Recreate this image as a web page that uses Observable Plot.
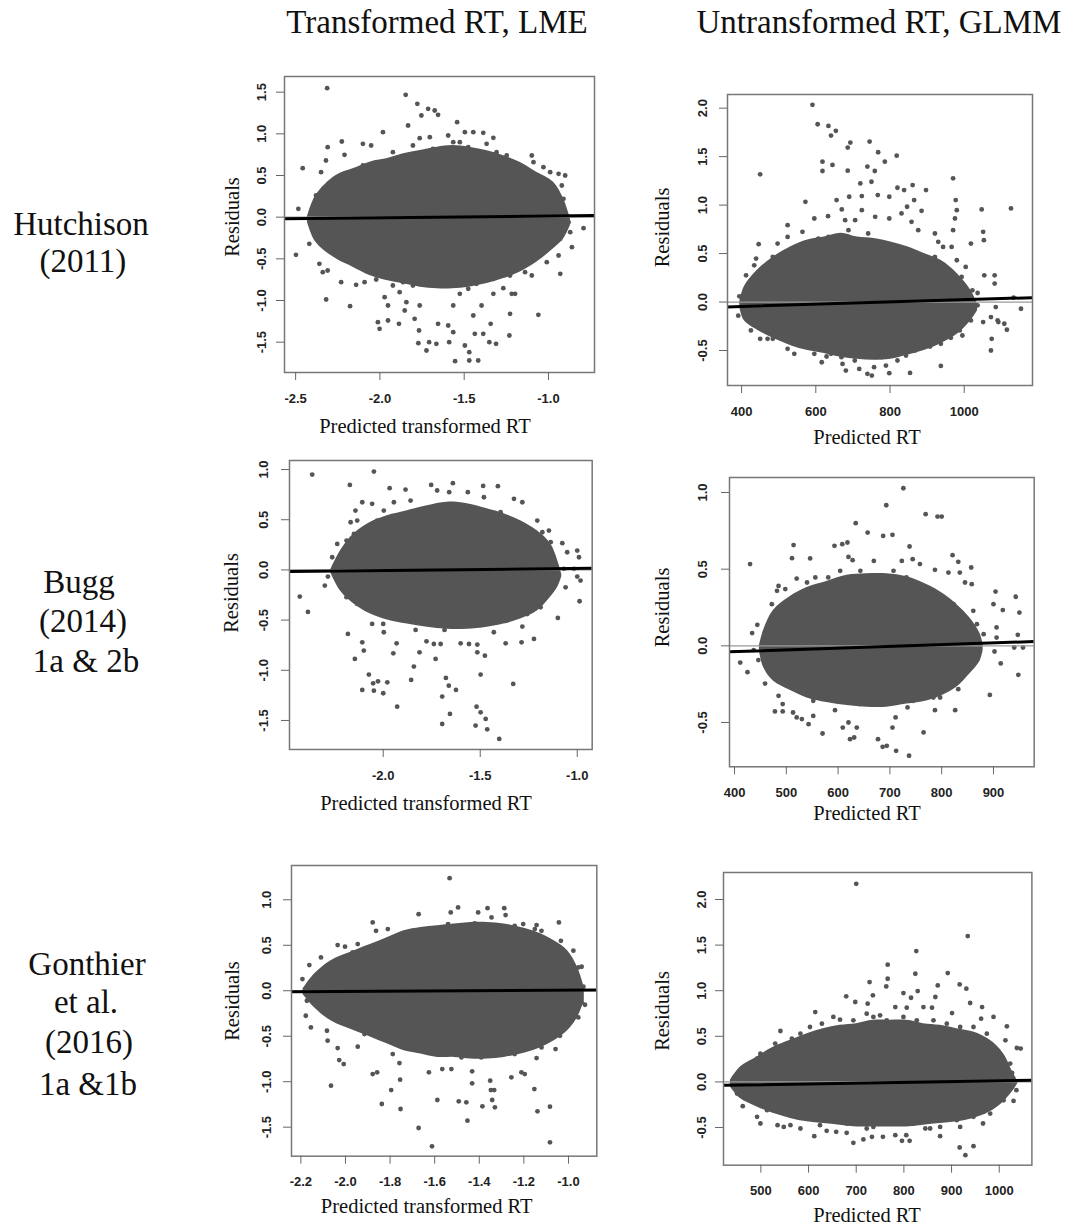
<!DOCTYPE html>
<html><head><meta charset="utf-8">
<script src="https://cdn.jsdelivr.net/npm/d3@7"></script>
<script src="https://cdn.jsdelivr.net/npm/@observablehq/plot@0.6"></script>
<style>
body{margin:0;background:#fff;}
#root{position:relative;width:1073px;height:1228px;overflow:hidden;background:#fff;}
.panel{position:absolute;}
#overlay{position:absolute;left:0;top:0;}
</style></head>
<body><div id="root"></div>
<script>
// ---------- text ----------
const columnTitles = ["Transformed RT, LME", "Untransformed RT, GLMM"];
const rowLabels = [["Hutchison", "(2011)"], ["Bugg", "(2014)", "1a & 2b"], ["Gonthier", "et al.", "(2016)", "1a &1b"]];
const yTitle = "Residuals";
const xTitles = ["Predicted transformed RT", "Predicted RT"];

// ---------- tick values ----------
const hutchLmeXTicks = [-2.5, -2.0, -1.5, -1.0];
const hutchLmeYTicks = [-1.5, -1.0, -0.5, 0, 0.5, 1.0, 1.5];
const hutchGlmmXTicks = [400, 600, 800, 1000];
const hutchGlmmYTicks = [-0.5, 0, 0.5, 1.0, 1.5, 2.0];
const buggLmeXTicks = [-2.0, -1.5, -1.0];
const buggLmeYTicks = [-1.5, -1.0, -0.5, 0, 0.5, 1.0];
const buggGlmmXTicks = [400, 500, 600, 700, 800, 900];
const buggGlmmYTicks = [-0.5, 0, 0.5, 1.0];
const gonLmeXTicks = [-2.2, -2.0, -1.8, -1.6, -1.4, -1.2, -1.0];
const gonLmeYTicks = [-1.5, -1.0, -0.5, 0, 0.5, 1.0];
const gonGlmmXTicks = [500, 600, 700, 800, 900, 1000];
const gonGlmmYTicks = [-0.5, 0, 0.5, 1.0, 1.5, 2.0];

// ---------- fitted line (residual at left / right end of range) ----------
const hutchLmeFit = [-0.02, 0.02];
const hutchGlmmFit = [-0.05, 0.045];
const buggLmeFit = [-0.017, 0.017];
const buggGlmmFit = [-0.039, 0.028];
const gonLmeFit = [-0.01, 0.007];
const gonGlmmFit = [-0.037, 0.018];

// ---------- extent of the dense, overplotted mass of each cloud (x, upper residual, lower residual) ----------
const hutchLmeMassX = [-2.43, -2.38, -2.26, -2.16, -2.06, -1.96, -1.86, -1.76, -1.66, -1.57, -1.47, -1.37, -1.27, -1.17, -1.07, -0.97, -0.91, -0.87];
const hutchLmeMassHi = [0.0, 0.26, 0.50, 0.58, 0.66, 0.70, 0.76, 0.80, 0.84, 0.86, 0.84, 0.80, 0.74, 0.66, 0.54, 0.42, 0.22, -0.02];
const hutchLmeMassLo = [-0.06, -0.30, -0.50, -0.60, -0.70, -0.76, -0.80, -0.84, -0.86, -0.86, -0.84, -0.80, -0.74, -0.66, -0.54, -0.38, -0.26, -0.10];

const hutchGlmmMassX = [395, 407, 443, 488, 533, 578, 623, 668, 712, 757, 802, 847, 892, 937, 982, 1018, 1036];
const hutchGlmmMassHi = [0.0, 0.155, 0.33, 0.47, 0.57, 0.64, 0.67, 0.71, 0.67, 0.655, 0.62, 0.57, 0.50, 0.43, 0.29, 0.12, -0.02];
const hutchGlmmMassLo = [-0.05, -0.19, -0.29, -0.38, -0.45, -0.50, -0.53, -0.57, -0.59, -0.60, -0.59, -0.55, -0.50, -0.43, -0.33, -0.19, -0.09];

const buggLmeMassX = [-2.27, -2.22, -2.151, -2.065, -1.979, -1.876, -1.773, -1.67, -1.567, -1.464, -1.378, -1.292, -1.206, -1.137, -1.10, -1.08];
const buggLmeMassHi = [0.0, 0.19, 0.36, 0.475, 0.54, 0.59, 0.64, 0.675, 0.66, 0.61, 0.56, 0.49, 0.39, 0.26, 0.09, -0.04];
const buggLmeMassLo = [-0.03, -0.21, -0.34, -0.44, -0.50, -0.54, -0.57, -0.59, -0.59, -0.57, -0.54, -0.49, -0.41, -0.27, -0.17, -0.07];

const buggGlmmMassX = [448, 456, 475, 507, 540, 578, 617, 655, 694, 733, 771, 803, 829, 855, 874, 880];
const buggGlmmMassHi = [0.0, 0.10, 0.23, 0.32, 0.38, 0.42, 0.46, 0.47, 0.47, 0.45, 0.40, 0.34, 0.27, 0.18, 0.08, 0.01];
const buggGlmmMassLo = [-0.03, -0.14, -0.23, -0.29, -0.34, -0.37, -0.39, -0.40, -0.40, -0.38, -0.36, -0.32, -0.27, -0.18, -0.10, -0.03];

const gonLmeMassX = [-2.19, -2.14, -2.065, -1.96, -1.886, -1.811, -1.737, -1.662, -1.587, -1.512, -1.438, -1.363, -1.288, -1.213, -1.139, -1.064, -1.004, -0.959, -0.929];
const gonLmeMassHi = [0.02, 0.18, 0.33, 0.44, 0.51, 0.586, 0.66, 0.696, 0.714, 0.733, 0.75, 0.75, 0.733, 0.696, 0.64, 0.55, 0.44, 0.256, 0.037];
const gonLmeMassLo = [-0.04, -0.183, -0.33, -0.44, -0.51, -0.586, -0.66, -0.696, -0.733, -0.733, -0.75, -0.75, -0.733, -0.696, -0.64, -0.55, -0.44, -0.293, -0.11];

const gonGlmmMassX = [436, 457, 492, 527, 562, 597, 631, 666, 701, 736, 771, 806, 841, 876, 911, 946, 981, 1009, 1030, 1040];
const gonGlmmMassHi = [0.018, 0.164, 0.274, 0.383, 0.456, 0.529, 0.584, 0.62, 0.639, 0.675, 0.675, 0.675, 0.639, 0.62, 0.584, 0.547, 0.456, 0.31, 0.091, 0.0];
const gonGlmmMassLo = [-0.055, -0.182, -0.274, -0.347, -0.40, -0.438, -0.456, -0.474, -0.493, -0.493, -0.493, -0.493, -0.474, -0.456, -0.438, -0.40, -0.328, -0.219, -0.091, -0.01];

// ---------- individual points around and outside the mass [predicted, residual] ----------
const hutchLmePts = [
[-2.313,1.548],[-1.847,1.468],[-1.778,1.36],[-1.714,1.30],[-1.675,1.28],[-1.754,1.22],[-1.655,1.228],[-1.542,1.14],[-1.833,1.10],[-1.982,1.02],[-1.496,1.02],[-1.446,1.02],[-1.387,1.012],[-1.327,0.952],[-2.226,0.908],[-2.31,0.84],[-2.32,0.68],[-2.21,0.748],[-2.101,0.88],[-2.052,0.86],[-1.764,0.948],[-1.704,0.96],[-1.595,0.98],[-1.565,0.90],[-2.458,0.588],[-2.349,0.54],[-2.27,0.44],[-1.099,0.74],[-1.089,0.66],[-1.030,0.60],[-0.990,0.54],[-0.94,0.52],[-0.901,0.50],[-0.921,0.38],[-0.911,0.22],[-0.97,0.10],[-0.93,0.04],[-0.881,-0.06],[-0.871,-0.18],[-0.792,-0.132],[-0.861,-0.36],[-0.93,-0.26],[-0.94,-0.46],[-0.93,-0.68],[-1.01,-0.54],[-1.099,-0.70],[-1.149,-0.58],[-2.484,0.10],[-2.498,-0.452],[-2.419,-0.32],[-2.359,-0.26],[-2.359,-0.56],[-2.339,-0.66],[-2.31,-0.64],[-2.379,-0.02],[-2.379,0.26],[-2.32,0.18],[-2.28,-0.38],[-2.23,-0.78],[-2.141,-0.812],[-2.091,-0.78],[-2.319,-0.988],[-2.177,-1.068],[-2.012,-1.26],[-1.952,-1.24],[-2.002,-1.34],[-1.887,-1.28],[-1.853,-1.12],[-1.764,-1.06],[-1.768,-1.36],[-1.772,-1.512],[-1.708,-1.50],[-1.724,-1.60],[-1.665,-1.52],[-1.655,-1.28],[-1.595,-1.30],[-1.565,-1.38],[-1.589,-1.50],[-1.554,-1.728],[-1.496,-1.54],[-1.470,-1.62],[-1.47,-1.72],[-1.417,-1.72],[-1.437,-1.40],[-1.387,-1.40],[-1.446,-1.18],[-1.397,-1.06],[-1.343,-1.28],[-1.351,-1.50],[-1.311,-1.52],[-1.228,-1.16],[-1.232,-1.42],[-1.218,-0.92],[-1.198,-0.92],[-1.268,-0.852],[-1.327,-0.92],[-1.06,-1.172],[-1.139,-0.66],[-1.526,-0.92],[-1.565,-1.06],[-1.685,-0.82],[-1.804,-0.82],[-1.883,-0.90],[-1.923,-0.82],[-1.972,-0.96],[-2.022,-0.748],[-1.952,-1.06],[-1.843,-1.02],[-1.794,-1.22],[-1.427,-0.80],[-1.476,-0.86],
[-1.923,0.78],[-1.873,0.72],[-1.804,0.86],[-1.685,0.82],[-1.526,0.90],[-1.476,0.84],[-1.367,0.88],[-1.308,0.78],[-1.248,0.74],[-1.208,0.64],[-1.169,0.58],[-2.022,0.66],[-2.101,0.62],[-2.141,0.50],[-2.181,0.42],[-2.22,0.30],[-2.26,0.18],[-2.30,0.06],[-2.32,-0.10],[-2.26,-0.18],[-2.22,-0.30],[-2.18,-0.46],[-2.121,-0.54],[-2.062,-0.66],[-1.962,-0.72],[-1.863,-0.78],[-1.724,-0.78],[-1.605,-0.80],[-1.327,-0.74],[-1.228,-0.70],[-1.05,-0.46],[-0.99,-0.34]
];

const hutchGlmmPts = [
[591,2.034],[605,1.834],[634,1.817],[641,1.717],[654,1.766],[693,1.645],[686,1.593],[745,1.655],[645,1.414],[618,1.448],[618,1.352],[686,1.355],[768,1.545],[818,1.510],[786,1.448],[739,1.397],[759,1.352],[450,1.317],[720,1.224],[750,1.241],[970,1.276],[838,1.155],[820,1.179],[861,1.207],[897,1.155],[798,1.086],[767,1.103],[724,1.093],[690,1.086],[656,1.052],[572,1.034],[1047,0.955],[1126,0.966],[865,1.052],[885,0.941],[846,0.983],[977,1.052],[980,0.948],[975,0.862],[1018,0.603],[1051,0.724],[1053,0.638],[1004,0.362],[1022,0.121],[1036,0.093],[1054,0.276],[1082,0.276],[1082,0.19],[1036,-0.034],[1072,-0.155],[1051,-0.207],[1085,-0.052],[1090,-0.19],[1108,-0.224],[1115,-0.286],[1074,-0.379],[1072,-0.50],[1153,-0.069],[1133,0.045],[1092,-0.207],[1018,-0.19],[995,-0.345],[964,-0.369],[937,-0.659],[908,-0.459],[901,-0.379],[892,-0.241],[854,-0.731],[843,-0.552],[820,-0.603],[798,-0.734],[789,-0.655],[751,-0.759],[739,-0.741],[757,-0.672],[717,-0.69],[705,-0.603],[681,-0.707],[672,-0.638],[683,-0.534],[641,-0.534],[616,-0.621],[629,-0.562],[596,-0.534],[582,-0.466],[524,-0.483],[470,-0.379],[450,-0.379],[425,-0.293],[391,-0.141],[407,-0.086],[394,0.059],[416,0.172],[412,0.276],[434,0.379],[439,0.448],[446,0.597],[452,0.293],[484,0.466],[497,0.603],[524,0.793],[524,0.672],[564,0.724],[596,0.862],[633,0.886],[670,0.955],[679,0.845],[706,0.845],[724,0.948],[760,0.879],[798,0.862],[831,0.914],[858,0.828],[876,0.741],[921,0.707],[930,0.621],[943,0.569],[966,0.569],[970,0.741],[688,0.741],[741,0.707],[634,0.672],[607,0.655],[921,0.466],[903,0.397],[980,0.431],[993,0.259],[484,-0.379],[542,-0.534],[669,-0.569],[777,-0.569],[831,-0.483],[867,-0.50],[937,-0.431],[988,-0.293]
];

const buggLmePts = [
[-2.366,0.95],[-2.048,0.98],[-2.172,0.847],[-1.967,0.814],[-1.885,0.80],[-1.753,0.847],[-1.641,0.864],[-1.485,0.837],[-1.409,0.834],[-1.722,0.791],[-1.66,0.774],[-1.564,0.774],[-1.481,0.724],[-1.326,0.708],[-1.283,0.674],[-2.108,0.674],[-2.057,0.658],[-1.945,0.674],[-1.859,0.691],[-2.143,0.591],[-2.134,0.492],[-2.168,0.475],[-1.997,0.591],[-2.031,0.492],[-2.237,0.259],[-2.263,0.126],[-2.189,0.292],[-2.151,0.359],[-2.100,0.392],[-1.206,0.492],[-1.180,0.375],[-1.146,0.392],[-1.137,0.276],[-1.077,0.266],[-1.052,0.176],[-1.000,0.193],[-0.991,0.126],[-1.069,0.01],[-1.017,0.01],[-1.0,-0.066],[-0.983,-0.106],[-1.06,-0.173],[-1.10,-0.478],[-0.988,-0.312],[-1.137,-0.173],[-1.163,-0.272],[-1.189,-0.372],[-1.223,-0.688],[-1.283,-0.565],[-1.287,-0.721],[-1.369,-0.731],[-1.43,-0.621],[-1.476,-0.854],[-1.515,-0.744],[-1.558,-0.738],[-1.515,-0.821],[-1.601,-0.731],[-1.684,-0.598],[-1.704,-0.738],[-1.739,-0.738],[-1.73,-0.887],[-1.777,-0.711],[-1.833,-0.598],[-1.813,-0.821],[-1.842,-0.963],[-1.856,-1.096],[-1.931,-0.731],[-1.948,-0.831],[-1.997,-0.621],[-2.0,-0.538],[-2.057,-0.538],[-2.10,-0.804],[-2.108,-0.721],[-2.146,-0.887],[-2.182,-0.638],[-2.189,-0.272],[-2.151,-0.206],[-2.134,-0.339],[-2.301,-0.156],[-2.285,-0.066],[-2.388,-0.419],[-2.43,-0.266],[-2.108,-1.196],[-2.074,-1.043],[-2.052,-1.13],[-2.048,-1.203],[-2.027,-1.11],[-2.0,-1.229],[-1.979,-1.12],[-1.928,-1.362],[-1.696,-1.262],[-1.696,-1.535],[-1.677,-1.076],[-1.662,-1.153],[-1.656,-1.435],[-1.625,-1.196],[-1.519,-1.362],[-1.524,-1.551],[-1.498,-1.043],[-1.498,-1.419],[-1.472,-1.485],[-1.464,-1.588],[-1.402,-1.684],[-1.33,-1.136],[-1.902,-0.472],[-1.79,-0.488],[-1.636,-0.505],[-1.533,-0.505],[-1.378,-0.472],[-1.258,-0.439],[-1.945,0.492],[-1.808,0.591],[-1.636,0.625],[-1.515,0.608],[-1.395,0.575],[-1.309,0.475],[-1.24,0.392]
];

const buggGlmmPts = [
[726,1.028],[693,0.917],[769,0.859],[792,0.843],[800,0.843],[634,0.80],[657,0.739],[687,0.717],[705,0.724],[738,0.648],[593,0.652],[608,0.663],[618,0.674],[514,0.657],[511,0.572],[546,0.57],[430,0.533],[620,0.58],[628,0.559],[669,0.554],[723,0.554],[744,0.565],[758,0.533],[787,0.496],[821,0.591],[832,0.548],[857,0.511],[813,0.478],[835,0.478],[845,0.413],[858,0.402],[904,0.354],[943,0.32],[950,0.217],[900,0.272],[918,0.233],[868,0.141],[881,0.076],[906,0.12],[906,0.054],[947,0.072],[940,-0.011],[957,-0.011],[902,-0.037],[914,-0.115],[948,-0.189],[893,-0.32],[861,-0.043],[851,-0.141],[835,-0.207],[832,-0.283],[826,-0.42],[787,-0.42],[784,-0.337],[765,-0.565],[734,-0.402],[737,-0.717],[712,-0.685],[694,-0.652],[686,-0.659],[677,-0.609],[711,-0.467],[705,-0.533],[623,-0.609],[631,-0.598],[636,-0.533],[620,-0.50],[609,-0.533],[594,-0.42],[570,-0.572],[543,-0.511],[552,-0.457],[530,-0.478],[520,-0.467],[513,-0.435],[493,-0.428],[478,-0.428],[493,-0.38],[485,-0.326],[459,-0.246],[425,-0.172],[411,-0.109],[437,-0.028],[446,-0.093],[444,0.137],[434,0.083],[462,0.011],[472,0.272],[482,0.359],[485,0.391],[498,0.37],[520,0.439],[540,0.413],[556,0.446],[565,0.391],[581,0.446],[604,0.489],[643,0.489],[681,0.457],[707,0.489],[732,0.446],[765,0.38],[784,0.359],[797,0.315],[823,0.272],[861,0.228],[552,-0.359],[578,-0.337],[642,-0.38],[668,-0.359],[745,-0.359],[797,-0.337],[778,-0.283]
];

const gonLmePts = [
[-1.533,1.238],[-1.528,0.861],[-1.495,0.916],[-1.672,0.842],[-1.878,0.751],[-1.405,0.861],[-1.363,0.908],[-1.345,0.806],[-1.288,0.908],[-1.282,0.832],[-1.203,0.733],[-1.143,0.722],[-1.043,0.751],[-1.863,0.659],[-1.810,0.678],[-1.78,0.549],[-1.825,0.465],[-1.945,0.513],[-2.035,0.502],[-2.002,0.484],[-2.11,0.366],[-2.162,0.282],[-2.193,0.128],[-1.968,0.421],[-1.93,0.33],[-2.065,0.293],[-2.083,0.22],[-2.013,0.22],[-2.095,0.018],[-2.05,-0.073],[-2.173,-0.11],[-2.178,-0.275],[-2.155,-0.403],[-2.083,-0.44],[-2.08,-0.549],[-2.035,-0.63],[-2.028,-0.762],[-2.008,-0.806],[-2.065,-1.044],[-1.945,-0.615],[-1.915,-0.476],[-1.878,-0.916],[-1.858,-0.897],[-1.837,-1.245],[-1.795,-1.092],[-1.788,-0.696],[-1.758,-0.795],[-1.755,-0.978],[-1.753,-1.30],[-1.672,-1.509],[-1.612,-1.711],[-1.588,-1.201],[-1.626,-0.897],[-1.566,-0.861],[-1.525,-0.861],[-1.492,-1.216],[-1.458,-1.227],[-1.453,-1.429],[-1.432,-0.886],[-1.432,-1.018],[-1.386,-1.271],[-1.348,-1.092],[-1.333,-1.092],[-1.342,-1.201],[-1.33,-1.282],[-1.351,-0.989],[-1.305,-0.678],[-1.256,-0.952],[-1.211,-0.897],[-1.196,-0.916],[-1.143,-0.74],[-1.153,-1.081],[-1.139,-1.326],[-1.083,-1.275],[-1.083,-1.667],[-1.058,-0.641],[-1.038,-0.495],[-1.098,-0.549],[-0.986,-0.33],[-0.941,-0.128],[-0.926,-0.154],[-0.963,-0.22],[-0.956,-0.293],[-0.948,0.037],[-0.933,0.044],[-0.956,0.256],[-0.941,0.264],[-0.978,0.44],[-1.034,0.549],[-1.001,0.33],[-1.09,0.495],[-1.121,0.659],[-1.151,0.678],[-1.241,0.714],[-1.33,0.696],[-1.42,0.74],[-1.465,0.696],[-1.54,0.733],[-1.60,0.678],[-1.66,0.659],[-1.705,0.586],[-1.75,0.495],[-1.241,-0.696],[-1.391,-0.733],[-1.48,-0.733],[-1.57,-0.696],[-1.675,-0.659],[-1.84,-0.513],[-1.885,-0.366],[-1.93,-0.256],[-1.121,-0.623]
];

const gonGlmmPts = [
[700,2.172],[934,1.599],[826,1.434],[766,1.285],[728,1.095],[766,1.131],[763,1.047],[824,1.186],[892,1.193],[871,1.058],[917,1.069],[931,1.022],[679,0.938],[698,0.876],[735,0.949],[799,0.974],[815,0.923],[829,0.996],[866,0.931],[724,0.858],[939,0.865],[614,0.766],[652,0.712],[722,0.748],[750,0.73],[782,0.821],[806,0.814],[841,0.821],[859,0.814],[901,0.755],[964,0.821],[962,0.693],[988,0.712],[1016,0.609],[1037,0.372],[1045,0.365],[1013,0.456],[1023,0.201],[1027,0.099],[1013,0.018],[1027,-0.055],[1036,-0.091],[1030,-0.208],[1009,-0.201],[992,-0.219],[967,-0.328],[966,-0.456],[946,-0.704],[929,-0.803],[917,-0.719],[918,-0.493],[876,-0.595],[855,-0.511],[845,-0.511],[834,-0.449],[812,-0.646],[796,-0.646],[805,-0.584],[782,-0.584],[756,-0.602],[733,-0.602],[715,-0.631],[722,-0.511],[694,-0.668],[680,-0.558],[658,-0.547],[638,-0.536],[612,-0.595],[583,-0.511],[562,-0.474],[548,-0.493],[535,-0.474],[513,-0.31],[492,-0.383],[462,-0.266],[450,-0.128],[446,0.018],[457,0.073],[472,0.172],[492,0.255],[499,0.31],[530,0.42],[541,0.558],[565,0.474],[583,0.529],[603,0.602],[628,0.639],[666,0.682],[694,0.675],[736,0.712],[764,0.675],[799,0.712],[827,0.675],[862,0.675],[890,0.639],[918,0.602],[946,0.602],[974,0.529],[988,0.383],[1002,0.274],[499,-0.456],[624,-0.474],[680,-0.456],[736,-0.493],[820,-0.456],[876,-0.493],[911,-0.42],[946,-0.383],[981,-0.347]
];

// ---------- layout ----------
const fmt1 = d => d.toFixed(1);
const fmt0 = d => String(d);
const panels = [
  {frame:[284.3,76,594.3,372], xDom:[-2.566,-0.727], yDom:[-1.864,1.688], xT:hutchLmeXTicks, yT:hutchLmeYTicks, xf:fmt1,
   mass:[hutchLmeMassX,hutchLmeMassHi,hutchLmeMassLo], pts:hutchLmePts, fit:hutchLmeFit, ydx:-23, xt:0, res:[231.7,217], xl:[425,433]},
  {frame:[726.7,94,1031.7,385], xDom:[362,1184], yDom:[-0.861,2.141], xT:hutchGlmmXTicks, yT:hutchGlmmYTicks, xf:fmt0,
   mass:[hutchGlmmMassX,hutchGlmmMassHi,hutchGlmmMassLo], pts:hutchGlmmPts, fit:hutchGlmmFit, ydx:-25, xt:1, res:[662,227.5], xl:[867,444]},
  {frame:[289,460,591.7,749], xDom:[-2.483,-0.923], yDom:[-1.789,1.09], xT:buggLmeXTicks, yT:buggLmeYTicks, xf:fmt1,
   mass:[buggLmeMassX,buggLmeMassHi,buggLmeMassLo], pts:buggLmePts, fit:buggLmeFit, ydx:-25.5, xt:0, res:[230.5,593], xl:[426,810]},
  {frame:[729.3,476.7,1034,766], xDom:[390.3,978.6], yDom:[-0.789,1.098], xT:buggGlmmXTicks, yT:buggGlmmYTicks, xf:fmt0,
   mass:[buggGlmmMassX,buggGlmmMassHi,buggGlmmMassLo], pts:buggGlmmPts, fit:buggGlmmFit, ydx:-27, xt:1, res:[662,607.5], xl:[867,820]},
  {frame:[290.7,865,596,1155.7], xDom:[-2.242,-0.873], yDom:[-1.819,1.377], xT:gonLmeXTicks, yT:gonLmeYTicks, xf:fmt1,
   mass:[gonLmeMassX,gonLmeMassHi,gonLmeMassLo], pts:gonLmePts, fit:gonLmeFit, ydx:-24.5, xt:0, res:[231.7,1001], xl:[426.7,1213]},
  {frame:[723.3,872.3,1031.7,1165], xDom:[421.6,1068.5], yDom:[-0.913,2.296], xT:gonGlmmXTicks, yT:gonGlmmYTicks, xf:fmt0,
   mass:[gonGlmmMassX,gonGlmmMassHi,gonGlmmMassLo], pts:gonGlmmPts, fit:gonGlmmFit, ydx:-22, xt:1, res:[662,1011], xl:[867,1221.7]}
];

const root = document.getElementById("root");
const DOT = "#555555";
const mL = 50, mR = 8, mT = 8, mB = 40;
const rows = c => c[0].map((x, i) => ({x, hi: c[1][i], lo: c[2][i]}));

for (const p of panels) {
  const [l, t, r, b] = p.frame;
  const W = r - l, H = b - t;
  const pts = p.pts.map(([x, y]) => ({x, y}));
  const fit = [{x: p.xDom[0], y: p.fit[0]}, {x: p.xDom[1], y: p.fit[1]}];
  const chart = Plot.plot({
    width: W + mL + mR, height: H + mT + mB,
    marginLeft: mL, marginRight: mR, marginTop: mT, marginBottom: mB,
    x: {domain: p.xDom}, y: {domain: p.yDom},
    style: {fontFamily: "'Liberation Sans', Arial, sans-serif", fontSize: "13px", fontWeight: "bold", color: "#222", background: "transparent", overflow: "visible"},
    marks: [
      Plot.areaY(rows(p.mass), {x: "x", y1: "lo", y2: "hi", fill: DOT, curve: "catmull-rom", clip: true}),
      Plot.dot(pts, {x: "x", y: "y", r: 2.4, fill: DOT, stroke: "none", clip: true}),
      Plot.ruleY([0], {stroke: "#9a9a9a", strokeWidth: 1.2}),
      Plot.line(fit, {x: "x", y: "y", stroke: "#000", strokeWidth: 3, clip: true}),
      Plot.frame({stroke: "#777", strokeWidth: 1.5}),
      Plot.axisX({ticks: p.xT, tickSize: 8, tickFormat: () => "", label: null, stroke: "#666"}),
      Plot.axisY({ticks: p.yT, tickSize: 8, tickFormat: () => "", label: null, stroke: "#666"}),
      Plot.text(p.xT, {x: d => d, frameAnchor: "bottom", dy: 26, text: p.xf, lineAnchor: "middle", textAnchor: "middle", fill: "#222"}),
      Plot.text(p.yT, {y: d => d, frameAnchor: "left", dx: p.ydx, text: fmt1, rotate: -90, lineAnchor: "middle", textAnchor: "middle", fill: "#222"})
    ]
  });
  chart.classList.add("panel");
  chart.style.left = (l - mL) + "px";
  chart.style.top = (t - mT) + "px";
  root.appendChild(chart);
}

// ---------- text overlay ----------
const svg = d3.select(root).append("svg").attr("id", "overlay")
  .attr("width", 1073).attr("height", 1228)
  .style("font-family", "'Liberation Serif', 'Times New Roman', serif").style("fill", "#111");

svg.append("text").attr("x", 437).attr("y", 33).attr("text-anchor", "middle").attr("font-size", 33).text(columnTitles[0]);
svg.append("text").attr("x", 879).attr("y", 33).attr("text-anchor", "middle").attr("font-size", 33).text(columnTitles[1]);

const rowPos = [
  [[81, 235], [83, 272]],
  [[79, 593], [83, 632], [86, 672]],
  [[87, 975], [86, 1013], [89, 1053], [88, 1095]]
];
rowLabels.forEach((lines, i) => lines.forEach((s, j) => {
  svg.append("text").attr("x", rowPos[i][j][0]).attr("y", rowPos[i][j][1])
    .attr("text-anchor", "middle").attr("font-size", 33).text(s);
}));

for (const p of panels) {
  const [cx, cy] = p.res;
  svg.append("text").attr("x", cx).attr("y", cy).attr("text-anchor", "middle")
    .attr("dominant-baseline", "central").attr("font-size", 20.5)
    .attr("transform", `rotate(-90,${cx},${cy})`).text(yTitle);
  svg.append("text").attr("x", p.xl[0]).attr("y", p.xl[1]).attr("text-anchor", "middle")
    .attr("font-size", 20.5).text(xTitles[p.xt]);
}
</script>
</body></html>
